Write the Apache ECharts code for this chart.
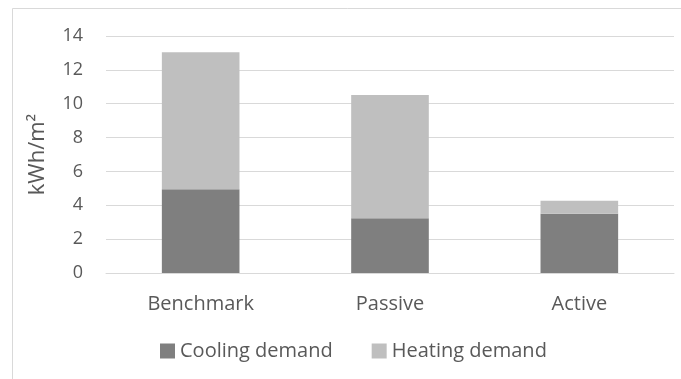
<!DOCTYPE html>
<html><head><meta charset="utf-8">
<script src="https://cdn.jsdelivr.net/npm/echarts@6/dist/echarts.min.js"></script>
<style>html,body{margin:0;padding:0;background:#fff}#c{width:681px;height:379px}</style>
</head><body><div id="c"></div>
<script>
const categories = ['Benchmark', 'Passive', 'Active'];
const coolingDemand = [4.94, 3.23, 3.5];
const heatingDemand = [8.1, 7.28, 0.77];
const yTicks = { min: 0, max: 14, interval: 2 };
const FONT = '"Open Sans", Lato, sans-serif';
const chart = echarts.init(document.getElementById('c'), null, { renderer: 'canvas' });
chart.setOption({
  animation: false,
  backgroundColor: '#fff',
  graphic: [{ type: 'rect', shape: { x: 12.5, y: 8.5, width: 700, height: 400 }, style: { fill: 'none', stroke: '#d9d9d9', lineWidth: 1 }, silent: true }],
  grid: { left: 106, right: 7, top: 36, bottom: 106, containLabel: false },
  legend: {
    left: 155, top: 336, itemWidth: 15, itemHeight: 15, itemGap: 39, icon: 'rect',
    textStyle: { fontFamily: FONT, fontSize: 20, color: '#595959' },
    data: ['Cooling demand', 'Heating demand']
  },
  xAxis: {
    type: 'category', data: categories,
    axisLine: { lineStyle: { color: '#d9d9d9', width: 1 } },
    axisTick: { show: false },
    axisLabel: { fontFamily: FONT, fontSize: 20, color: '#595959', margin: 21 }
  },
  yAxis: {
    type: 'value', min: yTicks.min, max: yTicks.max, interval: yTicks.interval,
    name: 'kWh/m²', nameLocation: 'middle', nameGap: 57,
    nameTextStyle: { fontFamily: FONT, fontSize: 22, color: '#595959' },
    axisLine: { show: false }, axisTick: { show: false },
    splitLine: { lineStyle: { color: '#d9d9d9', width: 1 } },
    axisLabel: { fontFamily: FONT, fontSize: 18, color: '#595959', margin: 23 }
  },
  series: [
    { name: 'Cooling demand', type: 'bar', stack: 'a', data: coolingDemand, barWidth: '41%', itemStyle: { color: '#7f7f7f' } },
    { name: 'Heating demand', type: 'bar', stack: 'a', data: heatingDemand, barWidth: '41%', itemStyle: { color: '#bfbfbf' } }
  ]
});
</script></body></html>
